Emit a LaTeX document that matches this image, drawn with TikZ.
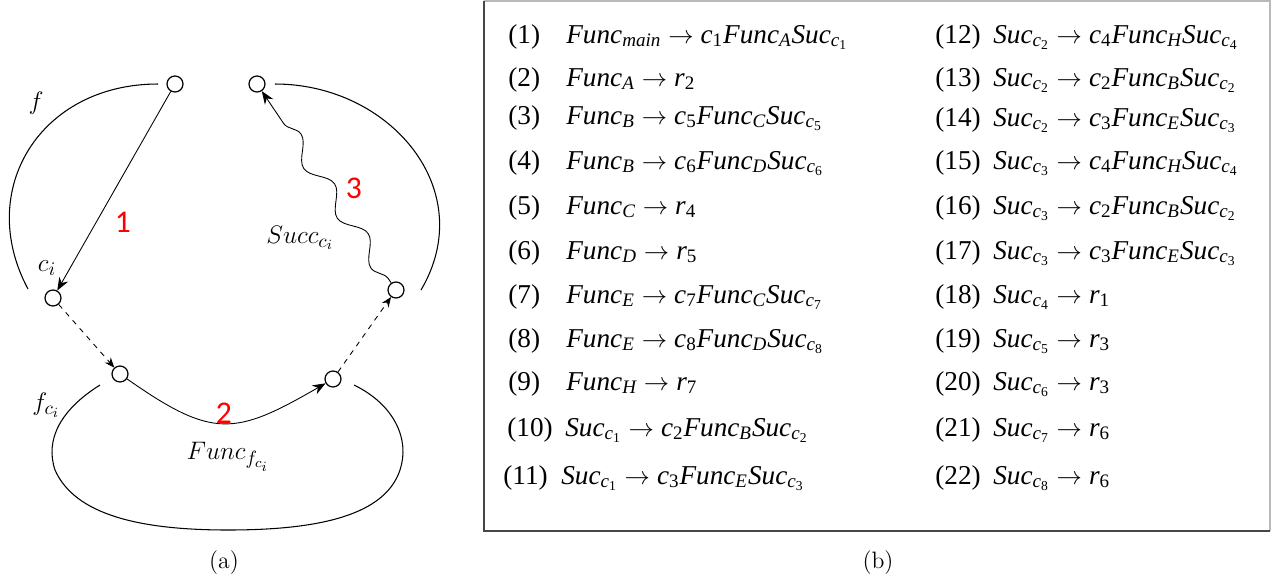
\documentclass[tikz,border=0pt]{standalone}
\usepackage{fontspec}
\usepackage{amsmath}
\usetikzlibrary{arrows.meta, decorations.pathmorphing}
\newfontfamily\rulefont{Liberation Serif}
\newfontfamily\markfont{Carlito}
\definecolor{markRed}{RGB}{255,0,0}
\definecolor{frameDark}{RGB}{70,70,70}
\definecolor{frameLight}{RGB}{185,185,185}
\newcommand{\csub}[1]{\textit{c}_{\text{#1}}}
\newcommand{\rsub}[1]{\textit{r}_{\text{#1}}}
\newcommand{\fnc}[1]{\textit{Func}_{\textit{#1}}}
\newcommand{\suc}[1]{\textit{Suc}_{\csub{#1}}}
\newcommand{\rnum}[1]{\makebox[1.16cm][l]{#1}}
\tikzset{
    site/.style={
        circle,
        draw,
        line width=0.7pt,
        minimum size=0.32cm,
        inner sep=0pt,
        fill=white
    },
    callarrow/.style={-{Stealth[length=2.6mm,width=2mm]}, line width=0.5pt},
    jumparrow/.style={-{Stealth[length=2mm,width=1.6mm]}, dashed, line width=0.5pt},
    scopeline/.style={line width=0.6pt},
    stepnum/.style={text=markRed, font=\markfont\fontsize{18}{20}\selectfont},
    lbl/.style={font=\fontsize{15.5}{18}\selectfont},
    rulebox/.style={anchor=base west, inner sep=0pt, font=\rulefont\fontsize{15.5}{18}\selectfont},
    caption/.style={font=\fontsize{13.5}{16}\selectfont}
}
\begin{document}
\begin{tikzpicture}[x=0.02cm,y=-0.02cm]
    \useasboundingbox (0,0) rectangle (1276,586);
    % (a) call and return
    \node[site] (fentry) at (175,84) {};
    \node[site] (fexit) at (257,84) {};
    \node[site] (call) at (53,298) {};
    \node[site] (ret) at (396,290) {};
    \node[site] (gentry) at (120,374) {};
    \node[site] (gexit) at (333,379) {};

    \draw[scopeline] (158,84) .. controls (40,84) and (-25,190) .. (28,289);
    \draw[scopeline] (275,84) .. controls (390,84) and (480,190) .. (421,290);
    \draw[scopeline] (100,385) .. controls (60,410) and (45,440) .. (55,470)
        .. controls (75,515) and (140,530) .. (228,530)
        .. controls (320,530) and (385,515) .. (400,470)
        .. controls (410,440) and (395,405) .. (354,385);

    \draw[callarrow] (fentry) -- (call);
    \draw[jumparrow] (call) -- (gentry);
    \draw[callarrow] (gentry) to[out=-35, in=-150, looseness=1.35] (gexit);
    \draw[jumparrow] (gexit) -- (ret);
    \draw[callarrow, decorate, decoration={snake, segment length=1.2cm, amplitude=1.7mm, pre length=1mm, post length=3mm}] (ret) -- (fexit);

    \node[lbl] (flabel) at (36,103) {$f$};
    \node[lbl] (clabel) at (47,268) {$c_i$};
    \node[stepnum] (step1) at (123,222) {1};
    \node[stepnum] (step3) at (354,188) {3};
    \node[lbl] (succ) at (300,238) {$Succ_{c_i}$};
    \node[lbl] (fci) at (46,405) {$f_{c_i}$};
    \node[stepnum] (step2) at (224,413) {2};
    \node[lbl] (gbody) at (228,457) {$Func_{f_{c_i}}$};
    \node[caption] (capa) at (224,563) {(a)};

    % (b) grammar rules
    \draw[frameLight, line width=1pt] (484,1) -- (1270,1) -- (1270,531);
    \draw[frameDark, line width=1pt] (484,1) -- (484,531) -- (1270,531);
    \node[rulebox] (rule1) at (508,43) {\rnum{(1)}$\fnc{main}\rightarrow\csub{1}\fnc{A}\suc{1}$};
    \node[rulebox] (rule2) at (508,86) {\rnum{(2)}$\fnc{A}\rightarrow\rsub{2}$};
    \node[rulebox] (rule3) at (508,124) {\rnum{(3)}$\fnc{B}\rightarrow\csub{5}\fnc{C}\suc{5}$};
    \node[rulebox] (rule4) at (508,169) {\rnum{(4)}$\fnc{B}\rightarrow\csub{6}\fnc{D}\suc{6}$};
    \node[rulebox] (rule5) at (508,214) {\rnum{(5)}$\fnc{C}\rightarrow\rsub{4}$};
    \node[rulebox] (rule6) at (508,259) {\rnum{(6)}$\fnc{D}\rightarrow\rsub{5}$};
    \node[rulebox] (rule7) at (508,303) {\rnum{(7)}$\fnc{E}\rightarrow\csub{7}\fnc{C}\suc{7}$};
    \node[rulebox] (rule8) at (508,347) {\rnum{(8)}$\fnc{E}\rightarrow\csub{8}\fnc{D}\suc{8}$};
    \node[rulebox] (rule9) at (508,390) {\rnum{(9)}$\fnc{H}\rightarrow\rsub{7}$};
    \node[rulebox] (rule10) at (507,436) {\rnum{(10)}$\suc{1}\rightarrow\csub{2}\fnc{B}\suc{2}$};
    \node[rulebox] (rule11) at (503,484) {\rnum{(11)}$\suc{1}\rightarrow\csub{3}\fnc{E}\suc{3}$};
    \node[rulebox] (rule12) at (935,43) {\rnum{(12)}$\suc{2}\rightarrow\csub{4}\fnc{H}\suc{4}$};
    \node[rulebox] (rule13) at (935,86) {\rnum{(13)}$\suc{2}\rightarrow\csub{2}\fnc{B}\suc{2}$};
    \node[rulebox] (rule14) at (935,126) {\rnum{(14)}$\suc{2}\rightarrow\csub{3}\fnc{E}\suc{3}$};
    \node[rulebox] (rule15) at (935,169) {\rnum{(15)}$\suc{3}\rightarrow\csub{4}\fnc{H}\suc{4}$};
    \node[rulebox] (rule16) at (935,214) {\rnum{(16)}$\suc{3}\rightarrow\csub{2}\fnc{B}\suc{2}$};
    \node[rulebox] (rule17) at (935,259) {\rnum{(17)}$\suc{3}\rightarrow\csub{3}\fnc{E}\suc{3}$};
    \node[rulebox] (rule18) at (935,303) {\rnum{(18)}$\suc{4}\rightarrow\rsub{1}$};
    \node[rulebox] (rule19) at (935,347) {\rnum{(19)}$\suc{5}\rightarrow\rsub{3}$};
    \node[rulebox] (rule20) at (935,390) {\rnum{(20)}$\suc{6}\rightarrow\rsub{3}$};
    \node[rulebox] (rule21) at (935,436) {\rnum{(21)}$\suc{7}\rightarrow\rsub{6}$};
    \node[rulebox] (rule22) at (935,484) {\rnum{(22)}$\suc{8}\rightarrow\rsub{6}$};
    \node[caption] (capb) at (878,563) {(b)};
\end{tikzpicture}
\end{document}
